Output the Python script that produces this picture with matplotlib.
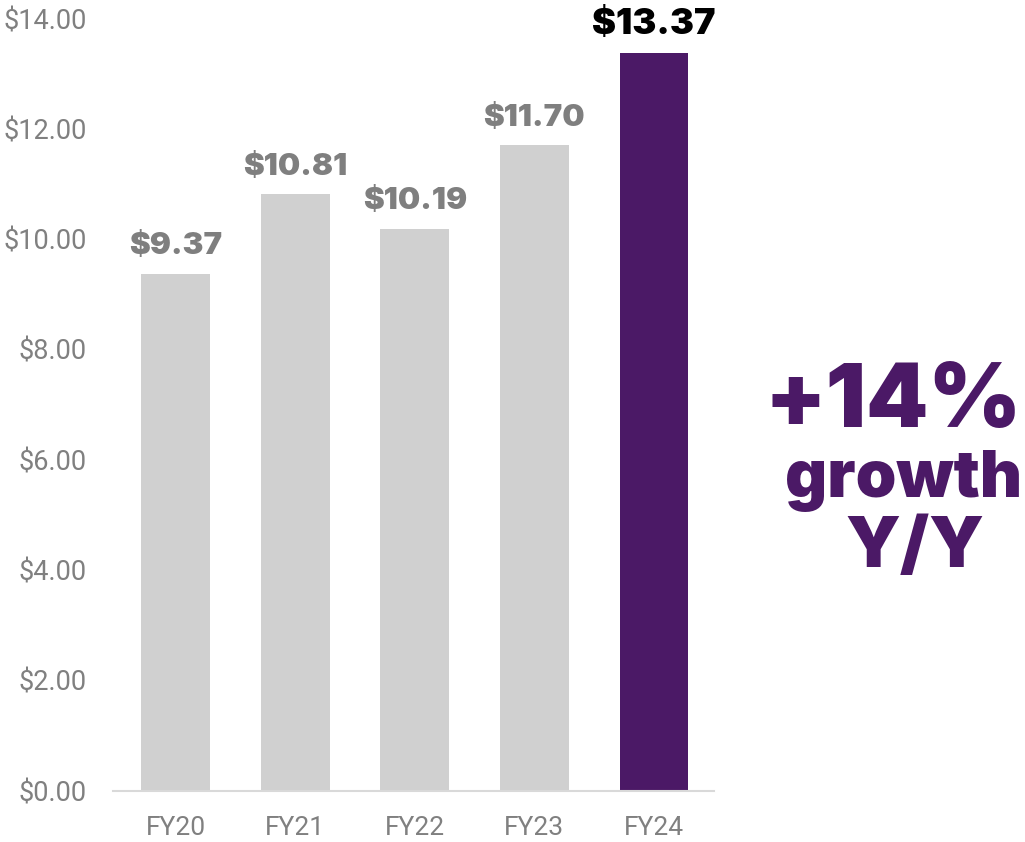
import matplotlib
matplotlib.use("Agg")
import matplotlib.pyplot as plt

years = ["FY20", "FY21", "FY22", "FY23", "FY24"]
eps = [9.37, 10.81, 10.19, 11.70, 13.37]
yticks = [0, 2, 4, 6, 8, 10, 12, 14]
growth_lines = ["+14%", "growth", "Y/Y"]

grey_bar = "#d0d0d0"
purple = "#4b1966"
label_grey = "#808080"
heavy = ["Inter", "DejaVu Sans"]

plt.rcParams["font.family"] = ["Roboto", "DejaVu Sans"]

fig = plt.figure(figsize=(10.25, 8.42), dpi=100)
ax = fig.add_axes([0.1105, 0.061, 0.586, 0.917])

colors = [grey_bar] * (len(years) - 1) + [purple]
bars = ax.bar(range(len(years)), eps, width=0.575, color=colors, zorder=2)

ax.set_xlim(-0.52, 4.5)
ax.set_ylim(0, 14)
ax.set_yticks(yticks)
ax.set_yticklabels([f"${v:.2f}" for v in yticks])
ax.set_xticks(range(len(years)))
ax.set_xticklabels(years)
ax.tick_params(axis="y", length=0, pad=19, labelsize=19.5, labelcolor=label_grey)
ax.tick_params(axis="x", length=0, pad=18, labelsize=19, labelcolor=label_grey)

for side in ["top", "right", "left"]:
    ax.spines[side].set_visible(False)
ax.spines["bottom"].set_color("#d9d9d9")
ax.spines["bottom"].set_linewidth(1.5)

# value labels above each bar, last year highlighted
for i, (b, v) in enumerate(zip(bars, eps)):
    last = i == len(eps) - 1
    ax.annotate(f"${v:.2f}", (b.get_x() + b.get_width() / 2, v),
                xytext=(0, 14), textcoords="offset points",
                ha="center", va="baseline", family=heavy,
                fontsize=26 if last else 22.5, fontweight="black",
                color="black" if last else "#7f7f7f")

# growth callout on the right
fig.text(893 / 1025, 1 - 427 / 842, growth_lines[0], ha="center", va="baseline",
         fontsize=64, fontweight="black", color=purple, family=heavy)
fig.text(904 / 1025, 1 - 497 / 842, growth_lines[1], ha="center", va="baseline",
         fontsize=47, fontweight="black", color=purple, family=heavy)
fig.text(915 / 1025, 1 - 567 / 842, growth_lines[2], ha="center", va="baseline",
         fontsize=51, fontweight="black", color=purple, family=heavy)

fig.savefig("out.png", dpi=100)
